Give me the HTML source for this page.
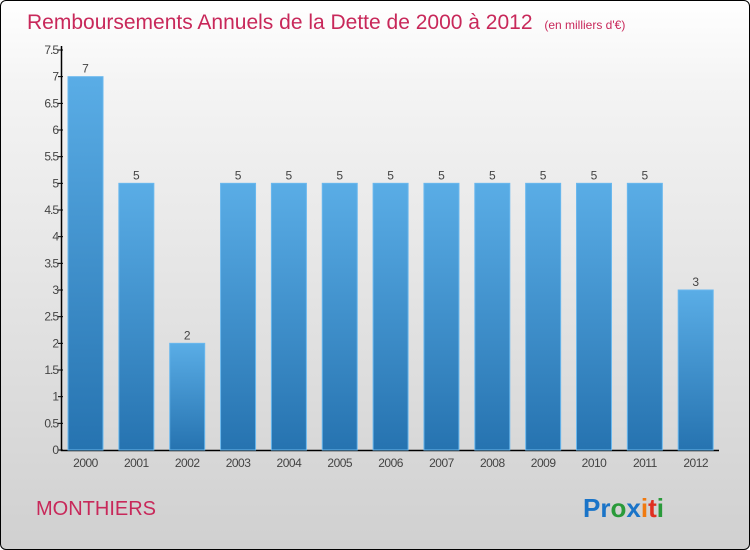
<!DOCTYPE html>
<html><head><meta charset="utf-8"><style>
body{margin:0;}
#c{position:relative;width:748px;height:548px;border:1px solid #000;border-radius:6px;overflow:hidden;background:linear-gradient(#fff,#f4f4f4 15%,#d0d0d0);font-family:"Liberation Sans",sans-serif;}
</style></head><body>
<div id="c">
<svg width="748" height="548" style="position:absolute;left:0;top:0" id="s">
<defs><linearGradient id="g" x1="0" y1="0" x2="0" y2="1"><stop offset="0" stop-color="#5aade6"/><stop offset="1" stop-color="#2673b0"/></linearGradient></defs>
<text x="26" y="28" font-size="21" fill="#c8285a">Remboursements Annuels de la Dette de 2000 à 2012 <tspan font-size="12" dx="6">(en milliers d'€)</tspan></text>
<text x="35" y="514" font-size="20" fill="#c8285a">MONTHIERS</text>
<text x="582" y="516" font-size="26" font-weight="bold"><tspan fill="#1a74c8">Pr</tspan><tspan fill="#2a9a3a">o</tspan><tspan fill="#1a74c8">x</tspan><tspan fill="#f07a10">i</tspan><tspan fill="#e03020">t</tspan><tspan fill="#2a9a3a">i</tspan></text>
<g id="plot"></g>
</svg>
</div>
<script>
const categories=["2000","2001","2002","2003","2004","2005","2006","2007","2008","2009","2010","2011","2012"];
const values=[7,5,2,5,5,5,5,5,5,5,5,5,3];
const ticks=[0,0.5,1,1.5,2,2.5,3,3.5,4,4.5,5,5.5,6,6.5,7,7.5];
const ns="http://www.w3.org/2000/svg";
const g=document.getElementById('plot');
const y=v=>449-v*(400/7.5);
const x=i=>67+i*50.85;
function el(t,a,txt){const e=document.createElementNS(ns,t);for(const k in a)e.setAttribute(k,a[k]);if(txt!=null)e.textContent=txt;g.appendChild(e);return e;}
const ax=el('path',{d:'M60.5 45 V449.5 H718',stroke:'#000','stroke-width':1.5,fill:'none'});


ticks.forEach(t=>{
 const tk=el('line',{x1:57,x2:62,y1:y(t),y2:y(t),stroke:'#000'});
 
 
 const l=el('text',{x:57,y:y(t)+4,'font-size':12,fill:'#444','text-anchor':'end','letter-spacing':'-1'},String(t));
 
 
});
values.forEach((v,i)=>{
 const b=el('rect',{x:x(i),y:y(v),width:35,height:449-y(v),fill:'url(#g)',stroke:'#6ab8ee','stroke-width':1});
 
 
 const t=el('text',{x:x(i)+17.5,y:y(v)-4,'font-size':12,fill:'#444','text-anchor':'middle'},String(v));
 
 
 const c=el('text',{x:x(i)+17.5,y:466,'font-size':12,fill:'#444','text-anchor':'middle','letter-spacing':'-0.5'},categories[i]);
 
 
});
</script>
</body></html>
